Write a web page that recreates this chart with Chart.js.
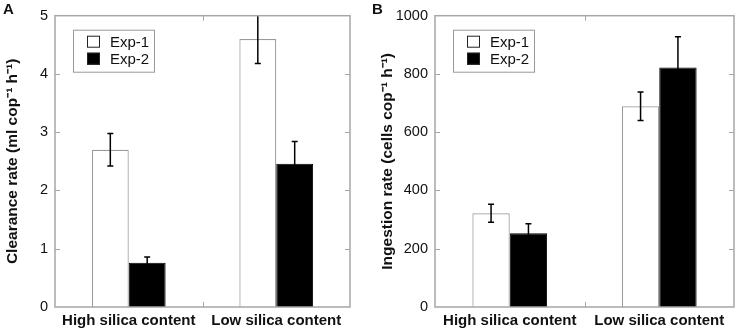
<!DOCTYPE html>
<html>
<head>
<meta charset="utf-8">
<script src="https://cdn.jsdelivr.net/npm/chart.js@4/dist/chart.umd.min.js"></script>
<style>
  body { margin: 0; background: #fff; }
  #wrap { position: relative; width: 737px; height: 331px; }
  .panel { position: absolute; top: 0; height: 331px; }
  .tag { position: absolute; font: bold 15px "Liberation Sans", Arial, sans-serif; color: #111; }
</style>
</head>
<body>
<div id="wrap">
  <div class="panel" style="left:0;width:367px"><canvas id="chartA" width="367" height="331"></canvas></div>
  <div class="panel" style="left:367px;width:370px"><canvas id="chartB" width="370" height="331"></canvas></div>
  <div class="tag" style="left:3px;top:0px">A</div>
  <div class="tag" style="left:372px;top:0px">B</div>
</div>
<script>
const categories = ['High silica content', 'Low silica content'];
const seriesNames = ['Exp-1', 'Exp-2'];

// Panel A: clearance rate
const clearanceExp1 = [2.7, 4.6];
const clearanceExp1Err = [0.28, 0.42];
const clearanceExp2 = [0.76, 2.46];
const clearanceExp2Err = [0.1, 0.38];

// Panel B: ingestion rate
const ingestionExp1 = [322, 689];
const ingestionExp1Err = [31, 49];
const ingestionExp2 = [253, 822];
const ingestionExp2Err = [33, 106];

const FONT = '"Liberation Sans", Arial, sans-serif';
const frameColor = '#a6a6a6';

// frame, inward ticks, error bars and boxed legend
const decorations = {
  id: 'decorations',
  afterDatasetsDraw(chart) {
    const { ctx, chartArea: a, scales } = chart;
    const y = scales.y, x = scales.x;

    // error bars
    ctx.save();
    ctx.beginPath();
    ctx.rect(a.left, a.top, a.right - a.left, a.bottom - a.top);
    ctx.clip();
    ctx.strokeStyle = '#000';
    ctx.lineWidth = 1.5;
    chart.data.datasets.forEach((ds, i) => {
      const meta = chart.getDatasetMeta(i);
      meta.data.forEach((bar, j) => {
        const v = ds.data[j], e = ds.errors[j];
        const yHi = y.getPixelForValue(v + e);
        const yLo = y.getPixelForValue(v - e);
        ctx.beginPath();
        ctx.moveTo(bar.x, yHi); ctx.lineTo(bar.x, yLo);
        ctx.moveTo(bar.x - 3, yHi); ctx.lineTo(bar.x + 3, yHi);
        ctx.moveTo(bar.x - 3, yLo); ctx.lineTo(bar.x + 3, yLo);
        ctx.stroke();
      });
    });
    ctx.restore();

    // frame
    ctx.save();
    ctx.strokeStyle = frameColor;
    ctx.lineWidth = 1.5;
    ctx.strokeRect(a.left, a.top, a.right - a.left, a.bottom - a.top);

    // inward ticks on both y sides
    ctx.lineWidth = 1;
    ctx.beginPath();
    y.ticks.forEach(t => {
      if (t.value === y.min || t.value === y.max) return;
      const py = Math.round(y.getPixelForValue(t.value)) + 0.5;
      ctx.moveTo(a.left, py); ctx.lineTo(a.left + 5, py);
      ctx.moveTo(a.right, py); ctx.lineTo(a.right - 5, py);
    });
    // category boundary ticks top and bottom
    for (let k = 0; k < categories.length - 1; k++) {
      const px = Math.round((x.getPixelForValue(k) + x.getPixelForValue(k + 1)) / 2) + 0.5;
      ctx.moveTo(px, a.top); ctx.lineTo(px, a.top + 5);
      ctx.moveTo(px, a.bottom); ctx.lineTo(px, a.bottom - 5);
    }
    ctx.stroke();

    // legend box
    const lx = a.left + 18, ly = a.top + 14;
    ctx.strokeStyle = '#999';
    ctx.lineWidth = 1;
    ctx.strokeRect(lx + 0.5, ly + 0.5, 81, 42);
    ctx.font = '15px ' + FONT;
    ctx.textBaseline = 'middle';
    chart.data.datasets.forEach((ds, i) => {
      const ry = ly + 12 + i * 17;
      ctx.fillStyle = ds.backgroundColor;
      ctx.fillRect(lx + 14, ry - 6, 13, 12);
      ctx.strokeStyle = '#222';
      ctx.strokeRect(lx + 14.5, ry - 5.5, 12, 11);
      ctx.fillStyle = '#111';
      ctx.fillText(ds.label, lx + 37, ry + 1);
    });
    ctx.restore();
  }
};

function makeChart(id, e1, e1Err, e2, e2Err, yMax, yStep, yTitle, yWidth, titlePad, rightPad) {
  return new Chart(document.getElementById(id), {
    type: 'bar',
    data: {
      labels: categories,
      datasets: [
        { label: seriesNames[0], data: e1, errors: e1Err, backgroundColor: '#ffffff', borderColor: '#9a9a9a', borderWidth: 1.2 },
        { label: seriesNames[1], data: e2, errors: e2Err, backgroundColor: '#000000', borderColor: '#000000', borderWidth: 1 }
      ]
    },
    options: {
      responsive: false,
      animation: false,
      layout: { autoPadding: false, padding: { top: 8, right: rightPad, left: 0, bottom: 0 } },
      datasets: { bar: { categoryPercentage: 0.5, barPercentage: 1 } },
      plugins: { legend: { display: false }, tooltip: { enabled: false } },
      scales: {
        x: {
          grid: { display: false, drawTicks: false },
          border: { display: false },
          ticks: { color: '#111', padding: 5, font: { family: FONT, size: 15, weight: 'bold' } },
          afterFit: s => { s.height = 24; }
        },
        y: {
          min: 0, max: yMax,
          grid: { display: false, drawTicks: false },
          border: { display: false },
          ticks: { stepSize: yStep, color: '#111', padding: 7, font: { family: FONT, size: 14.5 },
                   callback: v => String(v) },
          title: { display: true, text: yTitle, color: '#111', padding: { top: titlePad, bottom: 0 }, font: { family: FONT, size: 15.5, weight: 'bold' } },
          afterFit: s => { s.width = yWidth; }
        }
      }
    },
    plugins: [decorations]
  });
}

makeChart('chartA', clearanceExp1, clearanceExp1Err, clearanceExp2, clearanceExp2Err,
  5, 1, 'Clearance rate (ml cop\u207B\u00B9 h\u207B\u00B9)', 55, 3, 17);
makeChart('chartB', ingestionExp1, ingestionExp1Err, ingestionExp2, ingestionExp2Err,
  1000, 200, 'Ingestion rate (cells cop\u207B\u00B9 h\u207B\u00B9)', 68, 11, 3);
</script>
</body>
</html>
